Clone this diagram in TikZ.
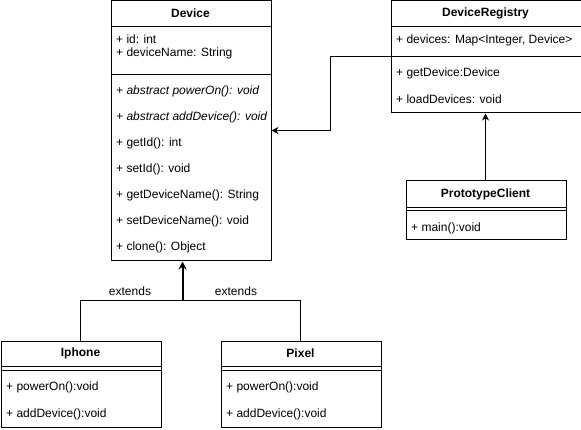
\documentclass[tikz,border=0pt]{standalone}
\usepackage{fontspec}
\setmainfont{Liberation Sans}
\usetikzlibrary{arrows.meta}
\begin{document}
\begin{tikzpicture}[x=1pt,y=-1pt,
  box/.style={draw, line width=1pt, anchor=north west, inner sep=0pt},
  ttl/.style={font=\fontsize{12}{14}\selectfont\bfseries, inner sep=0pt},
  mem/.style={font=\fontsize{12}{14}\selectfont, anchor=west, inner sep=0pt},
  sep/.style={line width=1pt},
  arr/.style={line width=1pt, -{Stealth[length=7pt,width=7pt]}},
  lnk/.style={line width=1pt},
  lbl/.style={font=\fontsize{12}{14}\selectfont, inner sep=0pt}]
\useasboundingbox (0,0) rectangle (581,430);
% Device
\node[box, minimum width=160pt, minimum height=260pt] (dev) at (110.5,0.5) {};
\node[ttl] (devt) at (190.5,13.5) {Device};
\draw[sep] (dev.west |- 0,26.5) -- (dev.east |- 0,26.5);
\draw[sep] (dev.west |- 0,74.5) -- (dev.east |- 0,74.5);
\node[mem] (d1) at (116,39.5) {+ id: int};
\node[mem] (d2) at (116,53) {+ deviceName: String};
\node[mem] (d3) at (116,91.5) {\itshape + abstract powerOn(): void};
\node[mem] (d4) at (116,117.5) {\itshape + abstract addDevice(): void};
\node[mem] (d5) at (116,143.5) {+ getId(): int};
\node[mem] (d6) at (116,169.5) {+ setId(): void};
\node[mem] (d7) at (116,195.5) {+ getDeviceName(): String};
\node[mem] (d8) at (116,221.5) {+ setDeviceName(): void};
\node[mem] (d9) at (116,247.5) {+ clone(): Object};
% DeviceRegistry
\node[box, minimum width=190pt, minimum height=112pt] (reg) at (390.5,0.5) {};
\node[ttl] (regt) at (485.5,13.5) {DeviceRegistry};
\draw[sep] (reg.west |- 0,26.5) -- (reg.east |- 0,26.5);
\draw[sep] (reg.west |- 0,56.5) -- (reg.east |- 0,56.5);
\node[mem] (r1) at (396,40.5) {+ devices: Map<Integer, Device>};
\node[mem] (r2) at (396,73.5) {+ getDevice:Device};
\node[mem] (r3) at (396,99.5) {+ loadDevices: void};
% PrototypeClient
\node[box, minimum width=160pt, minimum height=59pt] (pc) at (405.5,180.5) {};
\node[ttl] (pct) at (485.5,194) {PrototypeClient};
\draw[sep] (pc.west |- 0,207.5) -- (pc.east |- 0,207.5);
\draw[sep] (pc.west |- 0,210.5) -- (pc.east |- 0,210.5);
\node[mem] (p1) at (411,228.5) {+ main():void};
% Iphone
\node[box, minimum width=160pt, minimum height=86pt] (iph) at (0.5,340.5) {};
\node[ttl] (ipht) at (80.5,353.5) {Iphone};
\draw[sep] (iph.west |- 0,366.5) -- (iph.east |- 0,366.5);
\draw[sep] (iph.west |- 0,370.5) -- (iph.east |- 0,370.5);
\node[mem] (i1) at (6,387.5) {+ powerOn():void};
\node[mem] (i2) at (6,414.5) {+ addDevice():void};
% Pixel
\node[box, minimum width=160pt, minimum height=86pt] (pix) at (220.5,340.5) {};
\node[ttl] (pixt) at (300.5,353.5) {Pixel};
\draw[sep] (pix.west |- 0,366.5) -- (pix.east |- 0,366.5);
\draw[sep] (pix.west |- 0,370.5) -- (pix.east |- 0,370.5);
\node[mem] (x1) at (226,387.5) {+ powerOn():void};
\node[mem] (x2) at (226,414.5) {+ addDevice():void};
% connectors
\coordinate (j) at (182.5,300.5);
\draw[lnk] (iph.north -| 80.5,0) |- (j);
\draw[lnk] (pix.north -| 300.5,0) |- (j);
\draw[line width=2pt, -{Stealth[length=8pt,width=8pt]}] (j) -- (dev.south -| j);
\node[lbl] (e1) at (130,291.5) {extends};
\node[lbl] (e2) at (236,291.5) {extends};
\draw[arr] (reg.west |- 0,56.5) -- (330.5,56.5) |- (dev.east |- 0,130.5);
\draw[arr] (pc.north -| 485.5,0) -- (reg.south -| 485.5,0);
\end{tikzpicture}
\end{document}
